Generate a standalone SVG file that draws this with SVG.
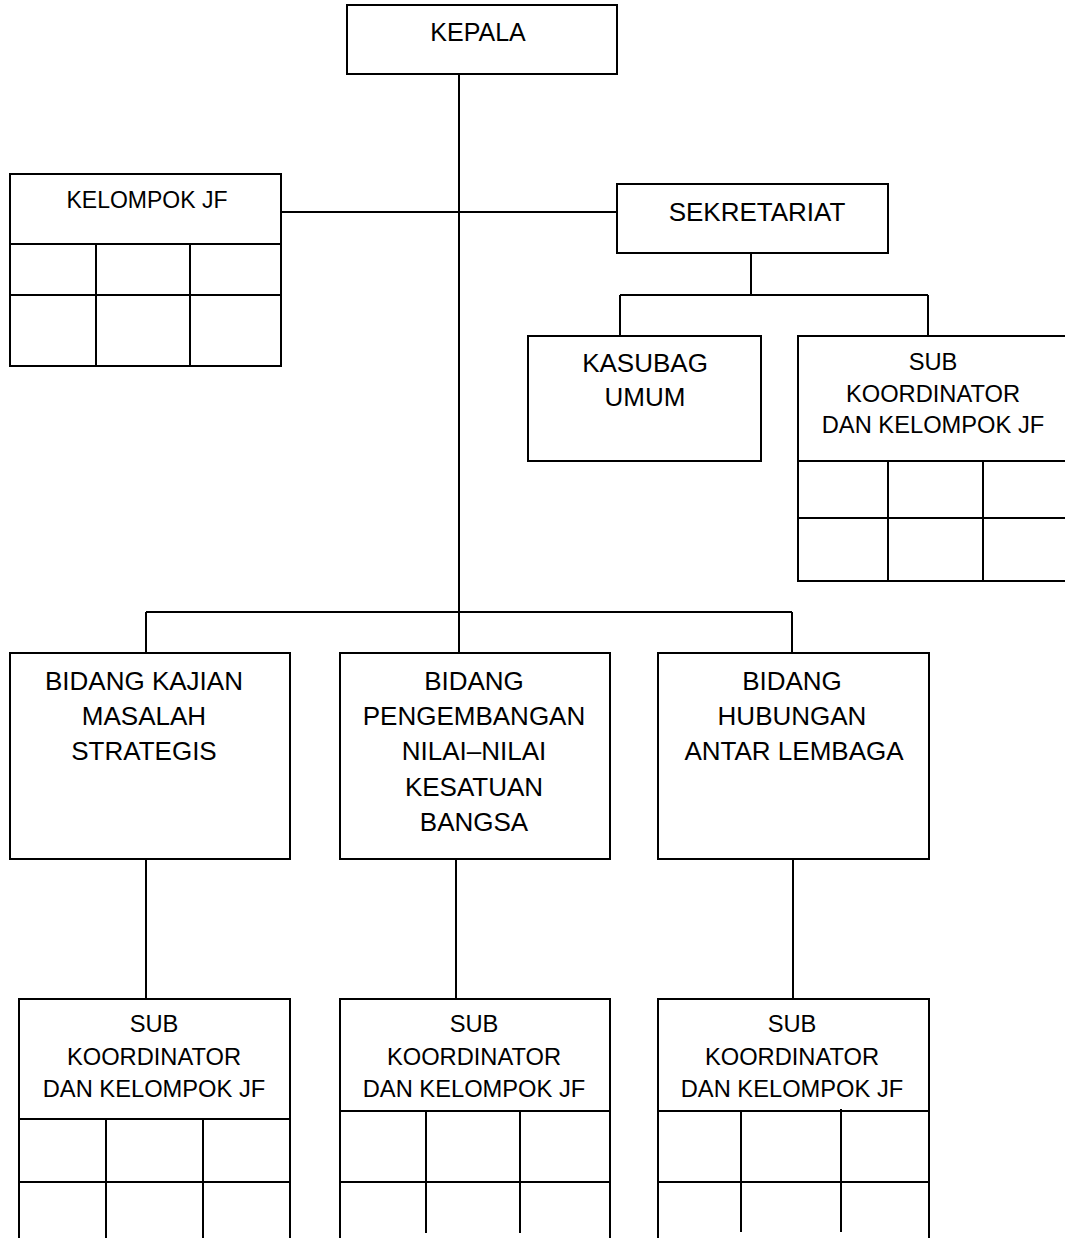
<svg xmlns="http://www.w3.org/2000/svg" width="1065" height="1238" viewBox="0 0 1065 1238">
<style>
.box{fill:#fff;stroke:#000;stroke-width:2}
.ln{fill:none;stroke:#000;stroke-width:2}
text{font-family:"Liberation Sans",Arial,sans-serif;fill:#000;text-anchor:middle}
.tk{font-size:25px}
.tj{font-size:23px}
.ts{font-size:26px}
.tb{font-size:26px}
.tsk{font-size:23.7px}
</style>
<rect width="1065" height="1238" fill="#fff"/>
<g id="connectors" class="ln">
<path d="M459 74V612"/>
<path d="M281 212H617"/>
<path d="M751 253V295M620 295H928M620 295V336M928 295V336"/>
<path d="M146 612H792M146 612V653M459 612V653M792 612V653"/>
<path d="M146 859V999M456 859V999M793 859V999"/>
</g>
<g id="kepala">
<rect class="box" x="347" y="5" width="270" height="69"/>
<text class="tk" x="478" y="41">KEPALA</text>
</g>
<g id="kelompok-jf">
<rect class="box" x="10" y="174" width="271" height="192"/>
<path class="ln" d="M10 244H281M10 295H281M96 244V366M190 244V366"/>
<text class="tj" x="147" y="208">KELOMPOK JF</text>
</g>
<g id="sekretariat">
<rect class="box" x="617" y="184" width="271" height="69"/>
<text class="ts" x="757" y="221">SEKRETARIAT</text>
</g>
<g id="kasubag-umum">
<rect class="box" x="528" y="336" width="233" height="125"/>
<text class="ts" x="645" y="372">KASUBAG</text>
<text class="ts" x="645" y="406">UMUM</text>
</g>
<g id="sub-koord-sekretariat">
<rect class="box" x="798" y="336" width="272" height="245"/>
<path class="ln" d="M798 461H1070M798 518H1070M888 461V581M983 461V581"/>
<text class="tsk" x="933" y="370">SUB</text>
<text class="tsk" x="933" y="402">KOORDINATOR</text>
<text class="tsk" x="933" y="433">DAN KELOMPOK JF</text>
</g>
<g id="bidang-kajian">
<rect class="box" x="10" y="653" width="280" height="206"/>
<text class="tb" x="144" y="690">BIDANG KAJIAN</text>
<text class="tb" x="144" y="725">MASALAH</text>
<text class="tb" x="144" y="760">STRATEGIS</text>
</g>
<g id="bidang-pengembangan">
<rect class="box" x="340" y="653" width="270" height="206"/>
<text class="tb" x="474" y="690">BIDANG</text>
<text class="tb" x="474" y="725">PENGEMBANGAN</text>
<text class="tb" x="474" y="760">NILAI–NILAI</text>
<text class="tb" x="474" y="796">KESATUAN</text>
<text class="tb" x="474" y="831">BANGSA</text>
</g>
<g id="bidang-hubungan">
<rect class="box" x="658" y="653" width="271" height="206"/>
<text class="tb" x="792" y="690">BIDANG</text>
<text class="tb" x="792" y="725">HUBUNGAN</text>
<text class="tb" x="794" y="760">ANTAR LEMBAGA</text>
</g>
<g id="sub-koord-1">
<rect class="box" x="19" y="999" width="271" height="250"/>
<path class="ln" d="M19 1119H290M19 1182H290M106 1119V1238M203 1119V1238"/>
<text class="tsk" x="154" y="1032">SUB</text>
<text class="tsk" x="154" y="1065">KOORDINATOR</text>
<text class="tsk" x="154" y="1097">DAN KELOMPOK JF</text>
</g>
<g id="sub-koord-2">
<rect class="box" x="340" y="999" width="270" height="250"/>
<path class="ln" d="M340 1111H610M340 1182H610M426 1111V1233M520 1111V1233"/>
<text class="tsk" x="474" y="1032">SUB</text>
<text class="tsk" x="474" y="1065">KOORDINATOR</text>
<text class="tsk" x="474" y="1097">DAN KELOMPOK JF</text>
</g>
<g id="sub-koord-3">
<rect class="box" x="658" y="999" width="271" height="250"/>
<path class="ln" d="M658 1111H929M658 1182H929M741 1111V1232M841 1109V1232"/>
<text class="tsk" x="792" y="1032">SUB</text>
<text class="tsk" x="792" y="1065">KOORDINATOR</text>
<text class="tsk" x="792" y="1097">DAN KELOMPOK JF</text>
</g>
</svg>
